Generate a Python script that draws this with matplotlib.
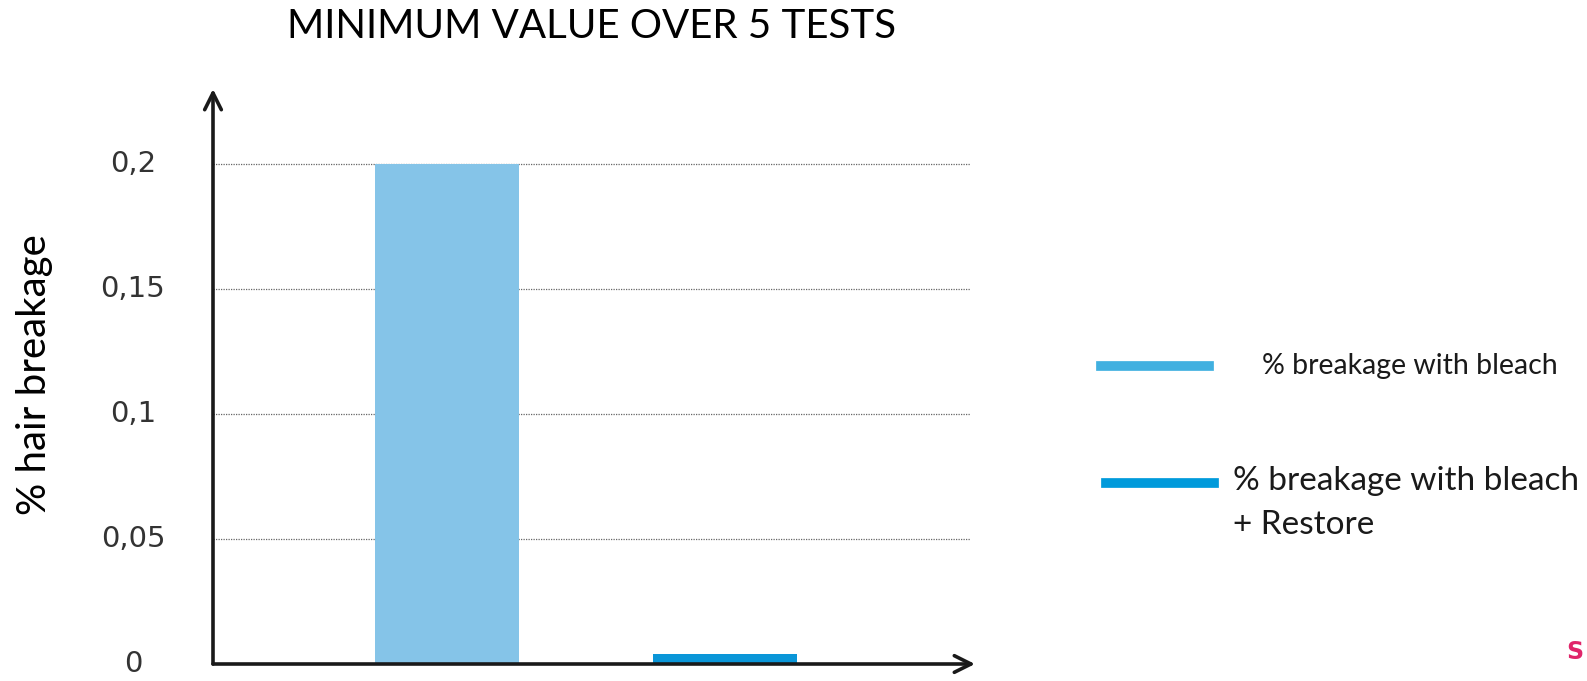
import matplotlib.pyplot as plt

# data
categories = ['% breakage with bleach', '% breakage with bleach\n+ Restore']
values = [0.2, 0.004]
bar_colors = ['#85C4E8', '#0A96D8']
legend_colors = ['#41B0E0', '#009ADB']
yticks = [0, 0.05, 0.1, 0.15, 0.2]
ytick_labels = ['0', '0,05', '0,1', '0,15', '0,2']

W, H = 1587, 681
fig = plt.figure(figsize=(W / 100, H / 100), dpi=100)

# axes box in pixels: x 213..975, y 664 (value 0)..89 (top)
left, right, bottom, top = 213, 975, 664, 89
ax = fig.add_axes([left / W, 1 - bottom / H, (right - left) / W, (bottom - top) / H])
ax.set_xlim(-0.842, 1.899)
ax.set_ylim(0, 0.23)
for s in ax.spines.values():
    s.set_visible(False)
ax.set_xticks([])
ax.set_yticks([])

# dotted gridlines
ax.hlines(yticks[1:], -0.842, 1.881, colors='#666666', linestyles=(0, (1, 1)),
          linewidth=0.9, zorder=1)

ax.bar(range(len(values)), values, width=0.518, color=bar_colors, zorder=2)

# axes with open arrowheads
arrow = dict(arrowstyle='->', color='#1a1a1a', lw=2.6, mutation_scale=30,
             shrinkA=0, shrinkB=0)
ax.annotate('', xy=(0, 1), xytext=(0, 0), xycoords='axes fraction', arrowprops=arrow,
            annotation_clip=False)
ax.annotate('', xy=(1, 0), xytext=(0, 0), xycoords='axes fraction', arrowprops=arrow,
            annotation_clip=False)

# tick labels, centred left of the axis
for v, lab in zip(yticks, ytick_labels):
    ax.text(-0.842 - 80 / 278, v, lab, ha='center', va='center', fontsize=21,
            family='DejaVu Sans', color='#333333')

fig.text(35 / W, 1 - 375 / H, '% hair breakage', rotation=90, ha='center', va='center',
         fontsize=29, family='Lato', color='black')
fig.text(592 / W, 1 - 26 / H, 'MINIMUM VALUE OVER 5 TESTS', ha='center', va='center',
         fontsize=29, family='Lato', color='black')

# legend drawn by hand
fig.add_artist(plt.Line2D([1101 / W, 1209 / W], [1 - 366 / H, 1 - 366 / H],
                          color=legend_colors[0], lw=7))
fig.add_artist(plt.Line2D([1106 / W, 1214 / W], [1 - 483 / H, 1 - 483 / H],
                          color=legend_colors[1], lw=7))
fig.text(1262 / W, 1 - 366 / H, categories[0], ha='left', va='center', fontsize=20.5,
         family='Lato', color='#1a1a1a')
fig.text(1233 / W, 1 - 503 / H, categories[1], ha='left', va='center', fontsize=24,
         family='Lato', color='#1a1a1a', linespacing=1.6)

fig.text(1583 / W, 1 - 652 / H, 'S', ha='right', va='center', fontsize=17,
         fontweight='bold', color='#E0256A')

fig.savefig('out.png', dpi=100)
